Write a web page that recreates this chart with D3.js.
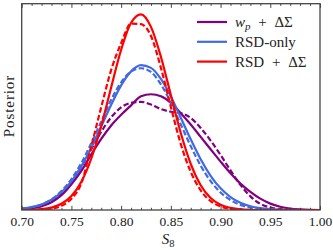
<!DOCTYPE html>
<html>
<head>
<meta charset="utf-8">
<script src="https://cdn.jsdelivr.net/npm/d3@7"></script>
<style>
  body { margin: 0; background: #fff; }
  svg text { font-family: "Liberation Serif", "Times New Roman", serif; fill: #222; }
</style>
</head>
<body>
<svg></svg>
<script>
let width = 333, height = 250;

// S8 grid the posteriors are read on
let s8 = [0.70, 0.71, 0.72, 0.73, 0.74, 0.75, 0.76, 0.77, 0.78, 0.79,
          0.80, 0.81, 0.82, 0.83, 0.84, 0.85, 0.86, 0.87, 0.88, 0.89,
          0.90, 0.91, 0.92, 0.93, 0.94, 0.95, 0.96, 0.97, 0.98, 0.99, 1.00];

// wp + DeltaSigma
let wpSolid = [.003, .008, .018, .038, .072, .125, .19, .27, .345, .41,
               .462, .508, .552, .562, .552, .52, .47, .415, .355, .295,
               .235, .178, .128, .088, .055, .031, .016, .007, .003, .001, 0];
let wpDash  = [.003, .008, .020, .042, .080, .138, .21, .295, .38, .45,
               .498, .52, .525, .512, .49, .477, .47, .447, .398, .337,
               .267, .192, .122, .066, .030, .012, .004, .001, 0, 0, 0];
// RSD-only
let rsdSolid = [.007, .014, .027, .050, .086, .139, .212, .302, .406, .511,
                .605, .673, .703, .690, .636, .551, .448, .343, .246, .166,
                .105, .063, .035, .018, .009, .004, .002, .001, 0, 0, 0];
let rsdDash  = [.006, .013, .027, .052, .092, .150, .228, .325, .43, .535,
                .62, .672, .688, .670, .610, .520, .415, .310, .215, .140,
                .085, .048, .025, .012, .005, .002, 0, 0, 0, 0, 0];
// RSD + DeltaSigma
let lensSolid = [0, .001, .004, .012, .030, .068, .137, .250, .408, .596,
                 .778, .909, .950, .889, .744, .558, .374, .224, .120, .058,
                 .025, .010, .003, .001, 0, 0, 0, 0, 0, 0, 0];
let lensDash  = [0, 0, .002, .006, .020, .055, .13, .31, .50, .68,
                 .81, .905, .902, .845, .69, .50, .32, .185, .095, .043,
                 .017, .006, .002, 0, 0, 0, 0, 0, 0, 0, 0];

let majorTicks = [0.70, 0.75, 0.80, 0.85, 0.90, 0.95, 1.00];
let legendNames = ["wp", "RSD-only", "RSD + ΔΣ"];
let colors = ["#800080", "#4169e1", "#ff0000"];

let series = [
    {vals: wpSolid, color: colors[0], dash: null},
    {vals: wpDash, color: colors[0], dash: "5.5,2.5"},
    {vals: rsdSolid, color: colors[1], dash: null},
    {vals: rsdDash, color: colors[1], dash: "5.5,2.5"},
    {vals: lensSolid, color: colors[2], dash: null},
    {vals: lensDash, color: colors[2], dash: "5.5,2.5"}
];

let serif = "'Liberation Serif', 'Times New Roman', serif";

let svg = d3.select("svg")
    .attr("width", width)
    .attr("height", height);

let pLeft = 21.7, pRight = 320, pTop = 3.7, pBottom = 210;

let x = d3.scaleLinear().domain([0.70, 1.00]).range([pLeft, pRight]);
let y = d3.scaleLinear().domain([0, 1]).range([pBottom, 4]);

svg.append("defs").append("clipPath").attr("id", "clip")
    .append("rect")
    .attr("x", pLeft).attr("y", pTop)
    .attr("width", pRight - pLeft).attr("height", pBottom - pTop);

let line = d3.line()
    .x((d, i) => x(s8[i]))
    .y(d => y(d))
    .curve(d3.curveMonotoneX);

svg.append("g")
    .attr("clip-path", "url(#clip)")
    .selectAll("path")
    .data(series)
    .enter()
    .append("path")
        .attr("d", d => line(d.vals))
        .attr("fill", "none")
        .attr("stroke", d => d.color)
        .attr("stroke-width", 2.2)
        .attr("stroke-dasharray", d => d.dash);

// minor ticks every 0.01, inward on top and bottom
let minorTicks = s8.filter(v => !majorTicks.some(m => Math.abs(m - v) < 1e-6));

function ticks(axis, yPos) {
    let g = svg.append("g").attr("transform", "translate(0," + yPos + ")").call(axis);
    g.select(".domain").remove();
    g.selectAll("line").attr("stroke", "#333").attr("stroke-width", 0.9);
    return g;
}
ticks(d3.axisBottom(x).tickValues(minorTicks).tickSize(-2.2).tickFormat(""), pBottom);
ticks(d3.axisTop(x).tickValues(minorTicks).tickSize(-2.2).tickFormat(""), pTop);
ticks(d3.axisTop(x).tickValues(majorTicks).tickSize(-4.2).tickFormat(""), pTop);
let xAxis = ticks(d3.axisBottom(x).tickValues(majorTicks).tickSize(-4.2)
    .tickPadding(6).tickFormat(d3.format(".2f")), pBottom);
xAxis.attr("font-family", null).attr("font-size", null);
xAxis.selectAll("text")
    .style("font-family", serif)
    .style("font-size", "13.5px")
    .attr("fill", "#222");

// frame
svg.append("rect")
    .attr("x", pLeft).attr("y", pTop)
    .attr("width", pRight - pLeft).attr("height", pBottom - pTop)
    .attr("fill", "none")
    .attr("stroke", "#444")
    .attr("stroke-width", 1.3);

// axis labels
let xl = svg.append("text")
    .attr("x", 168).attr("y", 244)
    .attr("text-anchor", "middle")
    .style("font-family", serif)
    .style("font-size", "15px");
xl.append("tspan").attr("font-style", "italic").text("S");
xl.append("tspan").style("font-size", "10.5px").attr("dy", 2.5).text("8");

svg.append("text")
    .attr("transform", "translate(14,106) rotate(-90)")
    .attr("text-anchor", "middle")
    .style("font-family", serif)
    .style("font-size", "15px")
    .style("letter-spacing", "0.9px")
    .text("Posterior");

// legend
let legend = svg.append("g")
    .selectAll("g")
    .data(legendNames)
    .enter()
    .append("g")
    .attr("transform", (d, i) => "translate(197," + (22 + i * 19.8) + ")");

legend.append("line")
    .attr("x1", 0).attr("x2", 30)
    .attr("stroke", (d, i) => colors[i])
    .attr("stroke-width", 2.2);

legend.append("text")
    .attr("x", 38).attr("y", 5)
    .style("font-family", serif)
    .style("font-size", "15px")
    .style("word-spacing", "4px")
    .each(function(d) {
        let t = d3.select(this);
        if (d === "wp") {
            t.append("tspan").attr("font-style", "italic").text("w");
            t.append("tspan").attr("font-style", "italic").style("font-size", "11px").attr("dy", 2.5).text("p");
            t.append("tspan").attr("dy", -2.5).text(" + ΔΣ");
        } else {
            t.text(d);
        }
    });
</script>
</body>
</html>
